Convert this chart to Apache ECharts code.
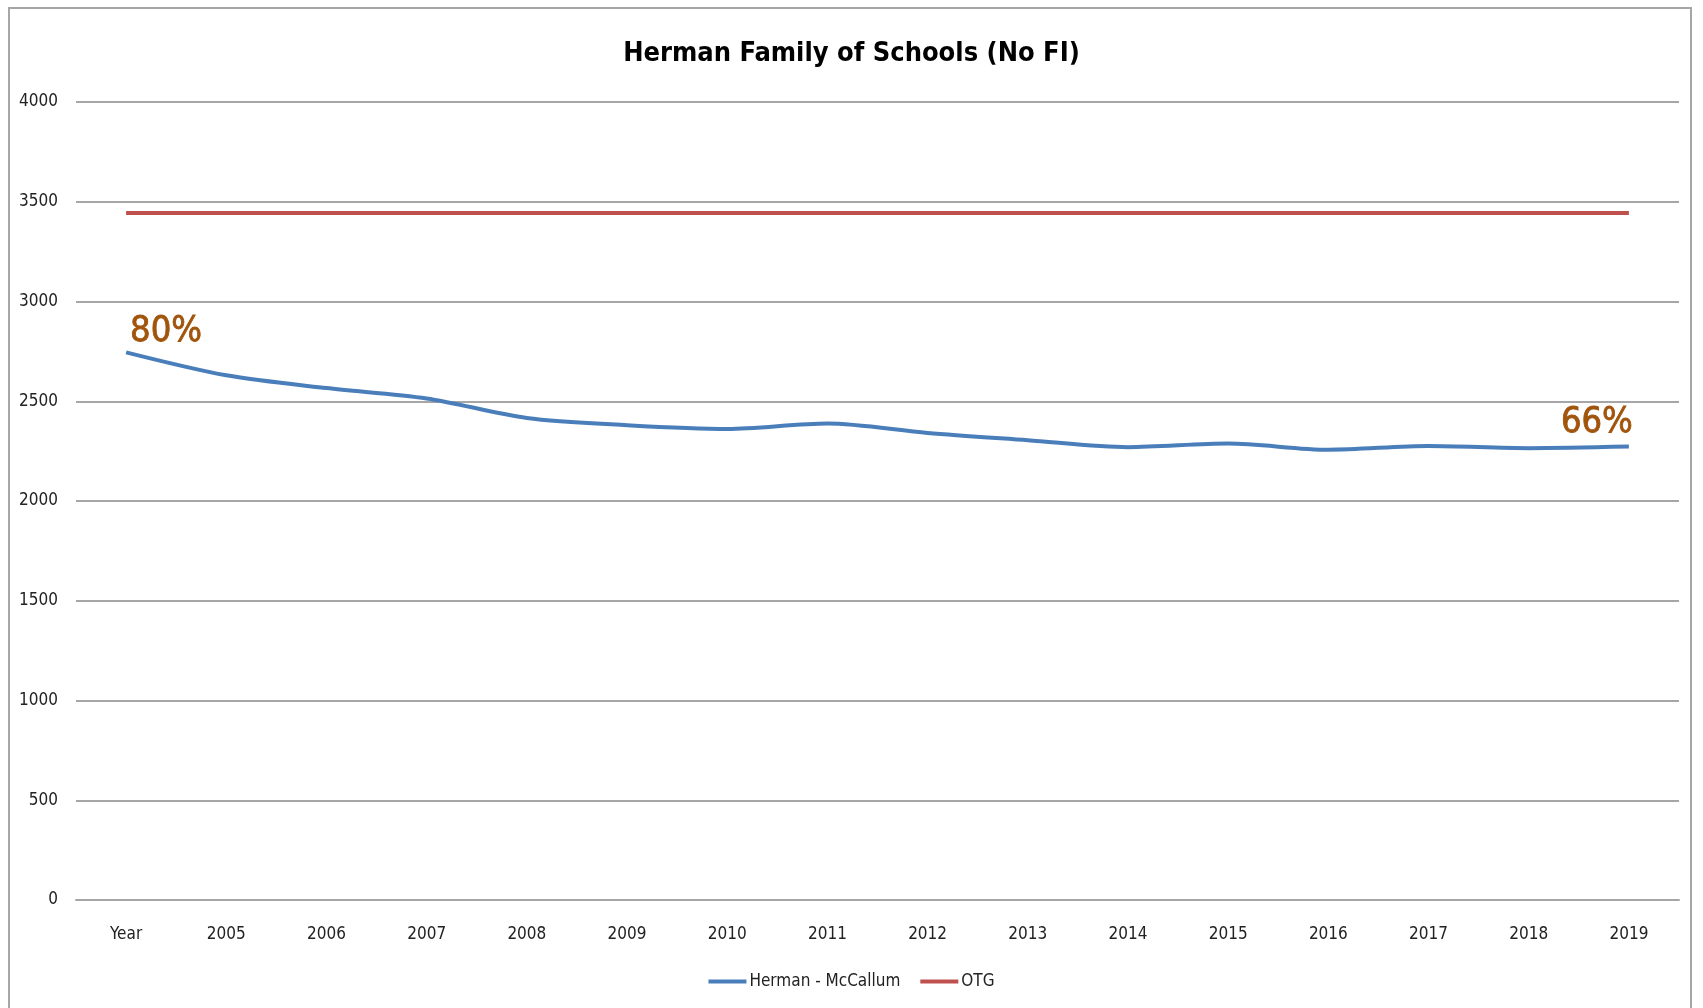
<!DOCTYPE html>
<html>
<head>
<meta charset="utf-8">
<script src="https://cdn.jsdelivr.net/npm/echarts@6/dist/echarts.min.js"></script>
<style>
  html, body { margin: 0; padding: 0; background: #fff; }
  #chart { width: 1703px; height: 1008px; }
</style>
</head>
<body>
<div id="chart"></div>
<script>
var years = ['Year', '2005', '2006', '2007', '2008', '2009', '2010', '2011', '2012', '2013', '2014', '2015', '2016', '2017', '2018', '2019'];
var mccallum = [2745, 2630, 2566, 2514, 2416, 2380, 2361, 2388, 2341, 2305, 2270, 2288, 2257, 2276, 2265, 2273];
var otg = [3444, 3444, 3444, 3444, 3444, 3444, 3444, 3444, 3444, 3444, 3444, 3444, 3444, 3444, 3444, 3444];
var yTicks = [0, 500, 1000, 1500, 2000, 2500, 3000, 3500, 4000];
// percentage notes shown on first and last point
var noteIndex = [0, 15];
var noteText = ['80%', '66%'];

var font = "'DejaVu Sans Condensed', 'Liberation Sans', sans-serif";
var noteColor = '#a0540c';

var chart = echarts.init(document.getElementById('chart'));

var notes = [];
for (var i = 0; i < noteIndex.length; i++) {
    var k = noteIndex[i];
    notes.push({
        coord: [years[k], mccallum[k]],
        value: noteText[i],
        label: { offset: i === 0 ? [40, 3] : [-32, 0] }
    });
}

var option = {
    animation: false,
    backgroundColor: '#fff',
    title: {
        text: 'Herman Family of Schools (No FI)',
        left: 'center',
        top: 35,
        textStyle: {
            fontFamily: font,
            fontWeight: 'bold',
            fontSize: 27,
            color: '#000'
        }
    },
    graphic: [{
        type: 'rect',
        shape: { x: 9, y: 8, width: 1682, height: 1100 },
        style: { fill: 'none', stroke: '#a6a6a6', lineWidth: 2 },
        silent: true
    }],
    legend: {
        bottom: 13,
        left: 'center',
        itemWidth: 38,
        itemHeight: 4,
        itemGap: 20,
        icon: 'rect',
        textStyle: { fontFamily: font, fontSize: 17, color: '#222', padding: [0, 0, 0, -2] },
        data: ['Herman - McCallum', 'OTG']
    },
    grid: {
        left: 76,
        right: 24,
        top: 102,
        bottom: 108
    },
    xAxis: {
        type: 'category',
        data: years,
        boundaryGap: true,
        axisLine: { show: true, lineStyle: { color: '#a6a6a6', width: 2 } },
        axisTick: { show: false },
        axisLabel: { fontFamily: font, fontSize: 17, color: '#222', margin: 26, interval: 0 }
    },
    yAxis: {
        type: 'value',
        min: yTicks[0],
        max: yTicks[yTicks.length - 1],
        interval: 500,
        axisLine: { show: false },
        axisTick: { show: false },
        axisLabel: {
            fontFamily: font, fontSize: 17, color: '#222', margin: 18,
            formatter: function (v) { return String(v); }
        },
        splitLine: { lineStyle: { color: '#a6a6a6', width: 2 } }
    },
    series: [
        {
            name: 'Herman - McCallum',
            type: 'line',
            data: mccallum,
            smooth: 0.3,
            showSymbol: false,
            symbol: 'none',
            color: '#4a7ebb',
            lineStyle: { width: 4, color: '#4a7ebb' },
            z: 3,
            markPoint: {
                symbol: 'circle',
                symbolSize: 0,
                silent: true,
                label: {
                    show: true,
                    position: 'top',
                    distance: 6,
                    formatter: '{c}',
                    color: noteColor,
                    fontFamily: font,
                    fontSize: 36,
                    textBorderColor: noteColor,
                    textBorderWidth: 0.8
                },
                data: notes
            }
        },
        {
            name: 'OTG',
            type: 'line',
            data: otg,
            showSymbol: false,
            symbol: 'none',
            color: '#c0504d',
            lineStyle: { width: 4, color: '#c0504d' },
            z: 2
        }
    ]
};
chart.setOption(option);
window.onresize = chart.resize;
</script>
</body>
</html>
